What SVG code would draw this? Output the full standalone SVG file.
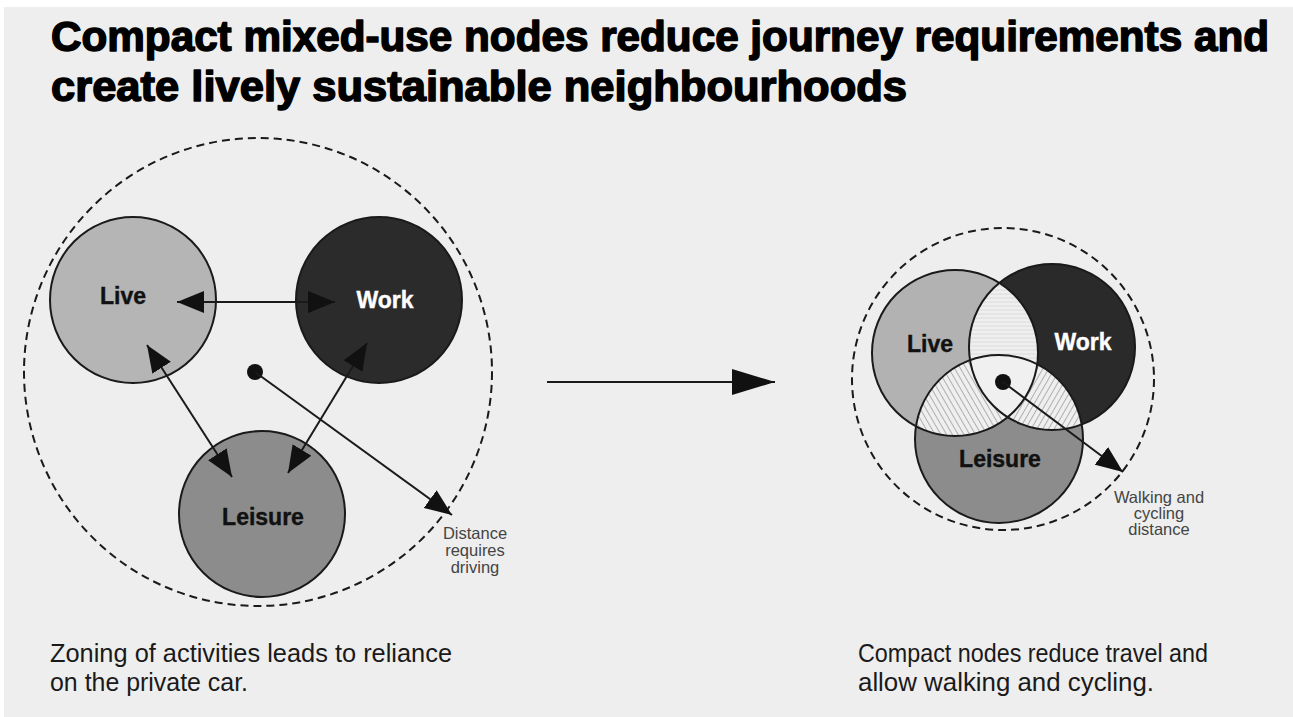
<svg xmlns="http://www.w3.org/2000/svg" width="1293" height="717" viewBox="0 0 1293 717">
  <style>
    .title { font-family: "Liberation Sans", Arial, sans-serif; font-weight: bold; font-size: 42px; fill: #000; stroke: #000; stroke-width: 1.5; stroke-linejoin: round; }
    .label { font-family: "Liberation Sans", Arial, sans-serif; font-weight: bold; font-size: 23px; text-anchor: middle; }
    .dark { fill: #111; stroke: #111; stroke-width: 0.4; }
    .light { fill: #fff; stroke: #fff; stroke-width: 0.4; }
    .note { font-family: "Liberation Sans", Arial, sans-serif; font-size: 16.5px; fill: #444; text-anchor: middle; }
    .caption { font-family: "Liberation Sans", Arial, sans-serif; font-size: 25px; fill: #1a1a1a; }
    .ring { fill: none; stroke: #1a1a1a; stroke-width: 2; stroke-dasharray: 8 5; }
    .node { stroke: #1a1a1a; stroke-width: 2; }
    .outline { fill: none; stroke: #1a1a1a; stroke-width: 2; }
    .link { fill: none; stroke: #1a1a1a; stroke-width: 2; }
  </style>
  <defs>
    <marker id="head" viewBox="0 0 27 22" markerWidth="27" markerHeight="22" refX="27" refY="11" orient="auto-start-reverse" markerUnits="userSpaceOnUse">
      <path d="M0,0 L27,11 L0,22 z" fill="#111"/>
    </marker>
    <marker id="bighead" viewBox="0 0 43 26" markerWidth="43" markerHeight="26" refX="43" refY="13" orient="auto" markerUnits="userSpaceOnUse">
      <path d="M0,0 L43,13 L0,26 z" fill="#111"/>
    </marker>
    <pattern id="hatchH" width="6" height="4" patternUnits="userSpaceOnUse">
      <rect width="6" height="4" fill="#efefef"/>
      <line x1="0" y1="2" x2="6" y2="2" stroke="#d6d6d6" stroke-width="0.8"/>
    </pattern>
    <pattern id="hatchBack" width="5" height="5" patternUnits="userSpaceOnUse" patternTransform="rotate(-30)">
      <rect width="5" height="5" fill="#efefef"/>
      <line x1="2.5" y1="0" x2="2.5" y2="5" stroke="#a8a8a8" stroke-width="0.9"/>
    </pattern>
    <pattern id="hatchFwd" width="5" height="5" patternUnits="userSpaceOnUse" patternTransform="rotate(30)">
      <rect width="5" height="5" fill="#efefef"/>
      <line x1="2.5" y1="0" x2="2.5" y2="5" stroke="#a8a8a8" stroke-width="0.9"/>
    </pattern>
    <clipPath id="clipLive"><circle cx="955" cy="353" r="83"/></clipPath>
    <clipPath id="clipWork"><circle cx="1052" cy="347" r="83"/></clipPath>
    <clipPath id="clipLeisure"><circle cx="999" cy="439" r="84"/></clipPath>
  </defs>

  <!-- page -->
  <rect width="1293" height="717" fill="#fff"/>
  <rect x="4" y="7" width="1289" height="710" fill="#eeeeee"/>

  <!-- heading -->
  <text class="title" x="51" y="51" textLength="1218" lengthAdjust="spacingAndGlyphs">Compact mixed-use nodes reduce journey requirements and</text>
  <text class="title" x="51" y="101" textLength="856" lengthAdjust="spacingAndGlyphs">create lively sustainable neighbourhoods</text>

  <!-- zoned layout -->
  <g id="zoned-boundary">
    <circle class="ring" cx="258" cy="372" r="234"/>
  </g>
  <g id="zoned-live">
    <circle class="node" cx="133" cy="300" r="83" fill="#b5b5b5"/>
    <text class="label dark" x="123" y="304">Live</text>
  </g>
  <g id="zoned-work">
    <circle class="node" cx="379" cy="300" r="83" fill="#2b2b2b"/>
    <text class="label light" x="385" y="308">Work</text>
  </g>
  <g id="zoned-leisure">
    <circle class="node" cx="262" cy="514" r="83" fill="#8c8c8c"/>
    <text class="label dark" x="263" y="525">Leisure</text>
  </g>
  <g id="zoned-centre">
    <circle cx="255" cy="372" r="8" fill="#111"/>
  </g>
  <g id="zoned-note">
    <text class="note" x="475" y="539">Distance</text>
    <text class="note" x="475" y="556">requires</text>
    <text class="note" x="475" y="573">driving</text>
  </g>

  <!-- compact layout -->
  <g id="compact-boundary">
    <circle class="ring" cx="1003" cy="379" r="151"/>
  </g>
  <g id="compact-live">
    <circle cx="955" cy="353" r="83" fill="#b2b2b2"/>
  </g>
  <g id="compact-work">
    <circle cx="1052" cy="347" r="83" fill="#2a2a2a"/>
  </g>
  <g id="compact-leisure">
    <circle cx="999" cy="439" r="84" fill="#8c8c8c"/>
  </g>
  <g id="compact-overlaps">
    <g clip-path="url(#clipLive)"><circle cx="1052" cy="347" r="83" fill="url(#hatchH)"/></g>
    <g clip-path="url(#clipLive)"><circle cx="999" cy="439" r="84" fill="url(#hatchBack)"/></g>
    <g clip-path="url(#clipWork)"><circle cx="999" cy="439" r="84" fill="url(#hatchFwd)"/></g>
    <g clip-path="url(#clipLive)"><g clip-path="url(#clipWork)"><circle cx="999" cy="439" r="84" fill="#f0f0f0"/></g></g>
  </g>
  <g id="compact-outlines">
    <circle class="outline" cx="955" cy="353" r="83"/>
    <circle class="outline" cx="1052" cy="347" r="83"/>
    <circle class="outline" cx="999" cy="439" r="84"/>
  </g>
  <g id="compact-labels">
    <text class="label dark" x="930" y="352">Live</text>
    <text class="label light" x="1083" y="350">Work</text>
    <text class="label dark" x="1000" y="467">Leisure</text>
  </g>
  <g id="compact-centre">
    <circle cx="1003" cy="382" r="8" fill="#111"/>
  </g>
  <g id="compact-note">
    <text class="note" x="1159" y="503">Walking and</text>
    <text class="note" x="1159" y="519">cycling</text>
    <text class="note" x="1159" y="535">distance</text>
  </g>

  <!-- connectors -->
  <g id="connectors">
    <line class="link" x1="177" y1="302" x2="335" y2="302" marker-start="url(#head)" marker-end="url(#head)"/>
    <line class="link" x1="147" y1="345" x2="232" y2="477" marker-start="url(#head)" marker-end="url(#head)"/>
    <line class="link" x1="367" y1="343" x2="288" y2="473" marker-start="url(#head)" marker-end="url(#head)"/>
    <line class="link" x1="255" y1="372" x2="452" y2="515" marker-end="url(#head)"/>
    <line class="link" x1="1003" y1="382" x2="1123" y2="472" marker-end="url(#head)"/>
    <line class="link" x1="547" y1="382" x2="775" y2="382" stroke-width="3" marker-end="url(#bighead)"/>
  </g>

  <!-- captions -->
  <g id="captions">
    <text class="caption" x="50" y="662" textLength="402" lengthAdjust="spacingAndGlyphs">Zoning of activities leads to reliance</text>
    <text class="caption" x="50" y="691" textLength="198" lengthAdjust="spacingAndGlyphs">on the private car.</text>
    <text class="caption" x="858" y="662" textLength="350" lengthAdjust="spacingAndGlyphs">Compact nodes reduce travel and</text>
    <text class="caption" x="858" y="691" textLength="296" lengthAdjust="spacingAndGlyphs">allow walking and cycling.</text>
  </g>
</svg>
